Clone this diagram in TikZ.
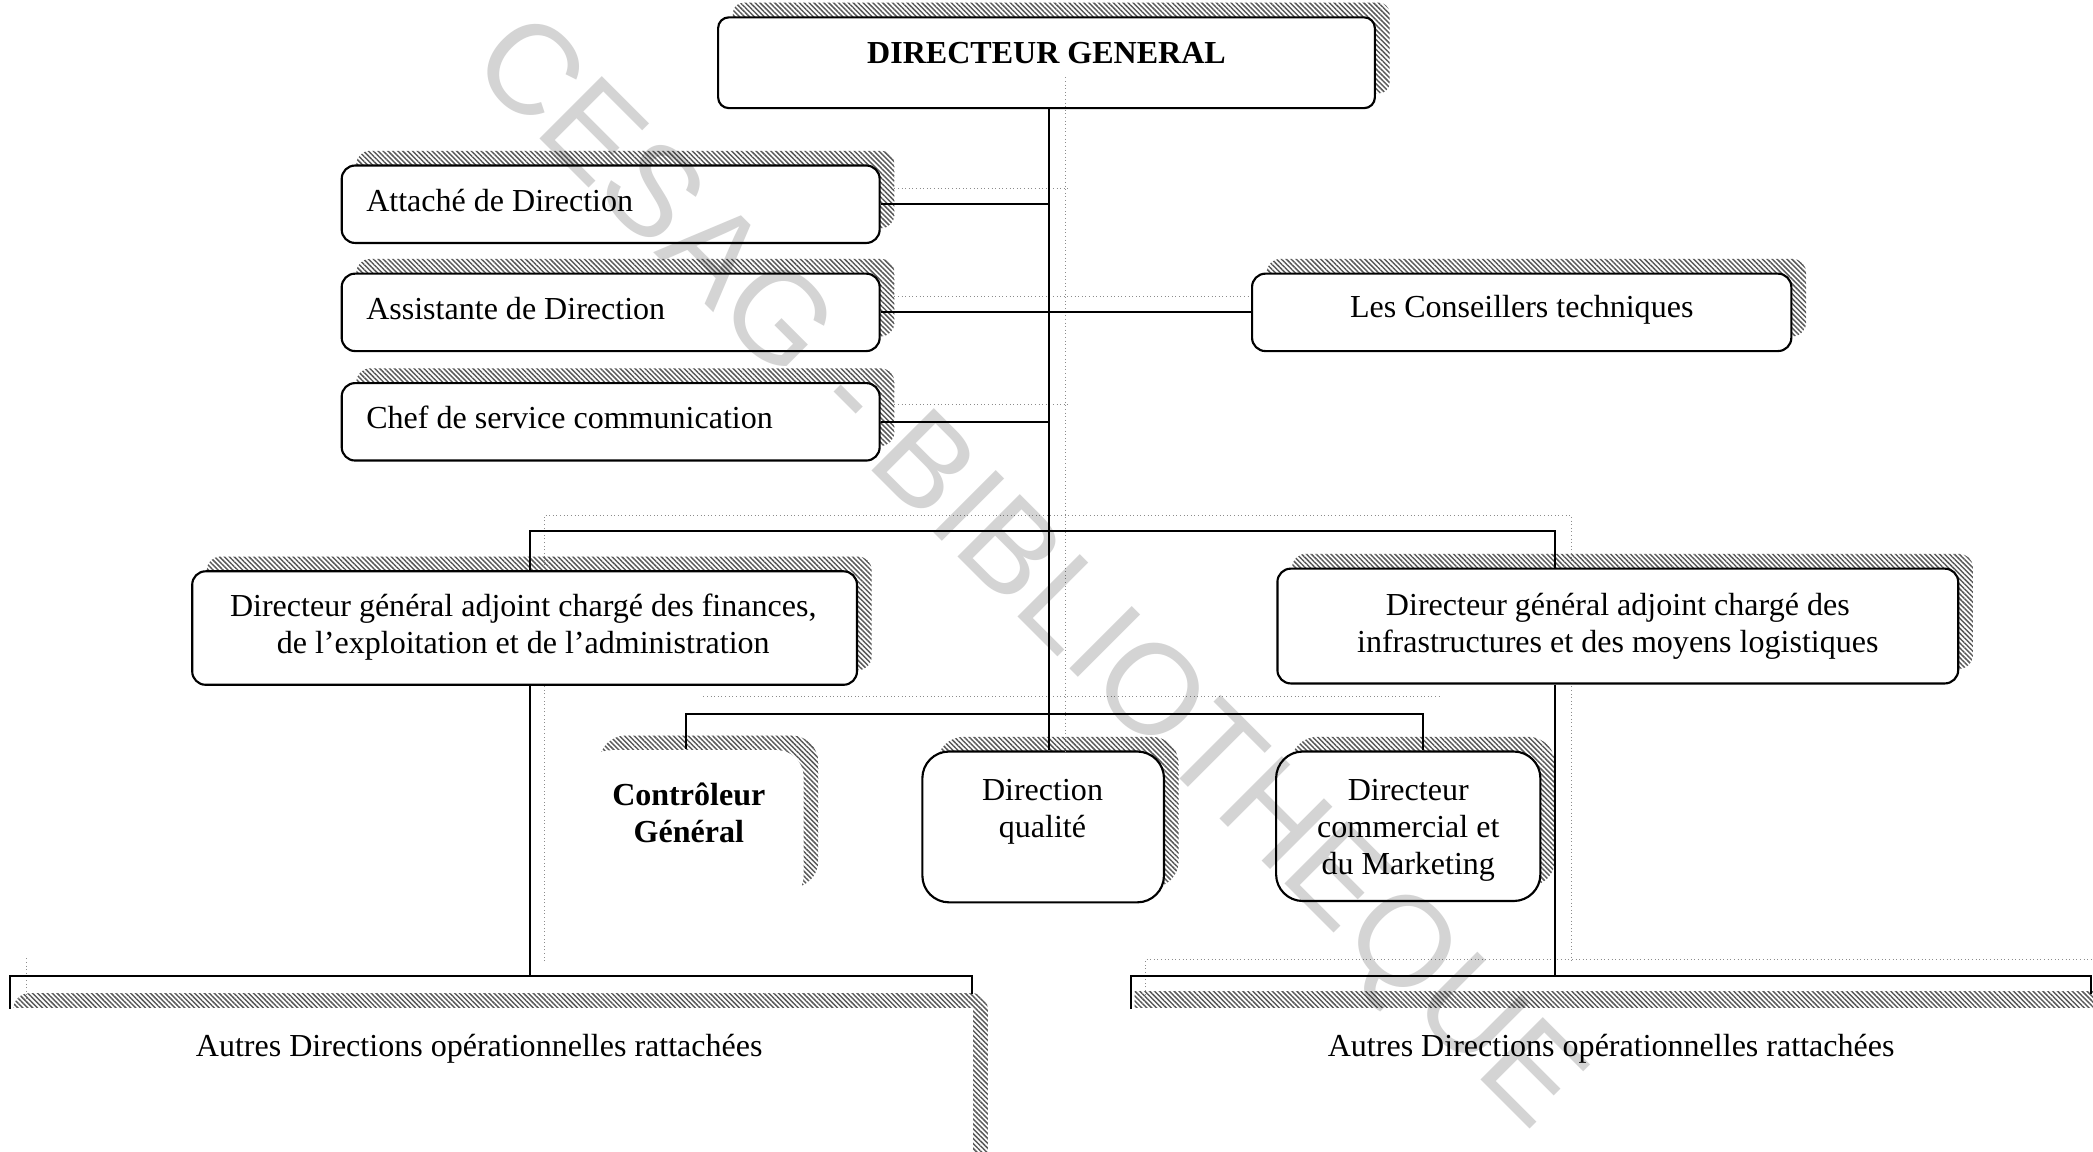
\documentclass[tikz,border=0pt]{standalone}
\usepackage{fontspec}
\setmainfont{Liberation Serif}
\newfontfamily\markfont{Liberation Sans}
\usetikzlibrary{patterns.meta,calc}
\begin{document}
\begin{tikzpicture}[x=0.5pt,y=-0.5pt,
  hatch/.style={pattern={Lines[angle=-45,distance=1.3pt,line width=0.55pt]},pattern color=black!65},
  shade box/.style={preaction={draw=none,hatch,transform canvas={xshift=5.5pt,yshift=5.5pt}}},
  unit/.style={shade box,draw=black,line width=0.8pt,fill=white,rounded corners=#1,inner sep=0pt},
  unit/.default=5pt,
  lbl/.style={font=\fontsize{12}{14}\selectfont,inner sep=0pt,align=center},
  boldlbl/.style={lbl,font=\fontsize{12}{14}\selectfont\bfseries},
  link/.style={line width=0.8pt},
  ghost/.style={draw=black!45,densely dotted,line width=0.35pt},
]
% page
\fill[white] (0,0) rectangle (1568,863);
\useasboundingbox (0,0) rectangle (1568,863);

% faint guide lines left from an earlier layout
\draw[ghost] (670,141) -- (800,141);
\draw[ghost] (670,222) -- (938,222);
\draw[ghost] (670,303) -- (800,303);
\draw[ghost] (408,720) -- (408,386) -- (1177,386) -- (1177,720);
\draw[ghost] (527,522) -- (1080,522);
\draw[ghost] (858,745) -- (858,719) -- (1568,719);
\draw[ghost] (20,718) -- (20,752);

% boxes
\node[unit=4pt,minimum width=246pt,minimum height=34pt] (dg) at (784,47) {};
\node[unit,minimum width=201.5pt,minimum height=29pt] (att) at (457.5,153) {};
\node[unit,minimum width=201.5pt,minimum height=29pt] (ass) at (457.5,234) {};
\node[unit,minimum width=201.5pt,minimum height=29pt] (chef) at (457.5,316) {};
\node[unit,minimum width=202pt,minimum height=29pt] (cons) at (1140,234) {};
\node[unit,minimum width=249pt,minimum height=42.5pt] (dgaL) at (393,470.5) {};
\node[unit,minimum width=255pt,minimum height=43pt] (dgaR) at (1212,469) {};
\node[unit=10pt,draw=none,minimum width=82pt,minimum height=57pt] (ctrl) at (520,619) {};
\node[unit=10pt,minimum width=90.5pt,minimum height=56.5pt] (dq) at (781.5,619.5) {};
\node[unit=10pt,minimum width=99pt,minimum height=56pt] (dcm) at (1055,619) {};

% the two open boxes at the bottom edge
\node[inner sep=0pt,minimum width=360pt,minimum height=12pt,anchor=north] (autL) at (368,731) {};
\node[inner sep=0pt,minimum width=359pt,minimum height=12pt,anchor=north] (autR) at (1207,731) {};
\fill[hatch,rounded corners=6pt] (10,744) rectangle (740,900);
\fill[white] (10,755) rectangle (729,900);
\fill[hatch] (850,743) rectangle (1580,755);
\draw[link] (autL.south west) -- (autL.north west) -- (autL.north east) -- ([yshift=-7pt]autL.north east);
\draw[link] (autR.south west) -- (autR.north west) -- (autR.north east) -- ([yshift=-7pt]autR.north east);

\draw[ghost] (798,58) -- (798,563);

% connectors
\coordinate (spine) at (786,0);
\draw[link] (spine |- dg.south) -- (spine |- dq.north);
\draw[link] (att.east) -- (att.east -| spine);
\draw[link] (ass.east) -- (cons.west);
\draw[link] (chef.east) -- (chef.east -| spine);
\coordinate (busL) at (397,398);
\coordinate (busR) at (1165,398);
\draw[link] (busL |- dgaL.north) -- (busL) -- (busR) -- (busR |- dgaR.north);
\coordinate (bustwoL) at (514,535);
\coordinate (bustwoR) at (1066,535);
\draw[link] (bustwoL |- ctrl.north) -- (bustwoL) -- (bustwoR) -- (bustwoR |- dcm.north);
\draw[link] (busL |- dgaL.south) -- (busL |- autL.north);
\draw[link] (busR |- dgaR.south) -- (busR |- autR.north);

% texts
\node[boldlbl] (t-dg) at (784,40) {DIRECTEUR GENERAL};
\node[lbl,anchor=west] (t-att) at (274,150) {Attaché de Direction};
\node[lbl,anchor=west] (t-ass) at (274,231) {Assistante de Direction};
\node[lbl,anchor=west] (t-chef) at (274,313) {Chef de service communication};
\node[lbl] (t-cons) at (1140,232) {Les Conseillers techniques};
\node[lbl] (t-dgaL) at (392,470) {Directeur général adjoint chargé des finances,\\de l’exploitation et de l’administration};
\node[lbl] (t-dgaR) at (1212,469) {Directeur général adjoint chargé des\\infrastructures et des moyens logistiques};
\node[boldlbl] (t-ctrl) at (516,609) {Contrôleur\\Général};
\node[lbl] (t-dq) at (781,608) {Direction\\qualité};
\node[lbl] (t-dcm) at (1055,622) {Directeur\\commercial et\\du Marketing};
\node[lbl] (t-autL) at (359,786) {Autres Directions opérationnelles rattachées};
\node[lbl] (t-autR) at (1207,786) {Autres Directions opérationnelles rattachées};

% library stamp across the sheet
\begin{scope}[blend mode=multiply]
\node[rotate=-45,text=black!17,inner sep=0pt,font=\markfont\fontsize{48}{48}\selectfont] (stamp) at (767,432) {CESAG - BIBLIOTHEQUE};
\end{scope}
\end{tikzpicture}
\end{document}
